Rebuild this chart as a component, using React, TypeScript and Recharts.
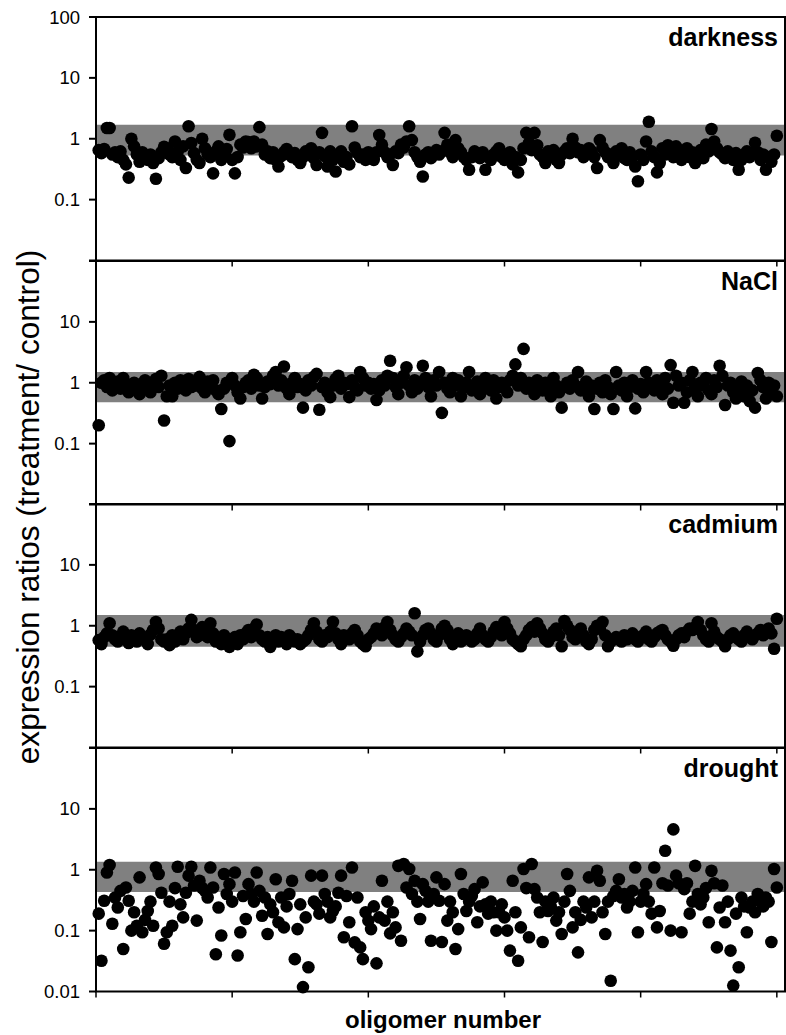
import { ScatterChart, Scatter, XAxis, YAxis, ReferenceArea } from "recharts";

const FONT = '"Liberation Sans", Arial, Helvetica, sans-serif';

// oligomer number axis (no labels, ticks only)
const oligomerTicks = [0, 50, 100, 150, 200, 250];
const ratioTicks = [0.01, 0.1, 1, 10, 100];

const treatments = ["darkness", "NaCl", "cadmium", "drought"];

// expression ratios (treatment / control), oligomer 1..250
const darkness = [
  0.65, 0.58, 0.68, 1.5, 1.5, 0.55, 0.6, 0.5, 0.62, 0.45, 0.38, 0.23, 1.0, 0.75, 0.55, 0.42, 0.6, 0.5, 0.45, 0.55, 0.4, 0.22, 0.48, 0.6, 0.74,
  0.7, 0.55, 0.5, 0.9, 0.62, 0.45, 0.75, 0.33, 1.6, 0.85, 0.58, 0.45, 0.4, 1.0, 0.7, 0.55, 0.5, 0.27, 0.62, 0.75, 0.45, 0.58, 0.68, 1.16, 0.45,
  0.27, 0.5, 0.8, 0.72, 0.9, 0.88, 0.7, 0.9, 0.75, 1.55, 0.8, 0.55, 0.62, 0.48, 0.6, 0.45, 0.35, 0.52, 0.6, 0.68, 0.55, 0.5, 0.58, 0.45, 0.4,
  0.5, 0.62, 0.55, 0.7, 0.48, 0.37, 0.6, 1.25, 0.52, 0.35, 0.62, 0.45, 0.29, 0.55, 0.62, 0.42, 0.5, 0.38, 1.6, 0.72, 0.58, 0.5, 0.55, 0.45, 0.6,
  0.5, 0.45, 0.6, 1.15, 0.8, 0.6, 0.5, 0.55, 0.37, 0.62, 0.58, 0.8, 0.72, 0.9, 1.6, 0.95, 0.6, 0.5, 0.42, 0.24, 0.55, 0.6, 0.48, 0.58, 0.65,
  0.55, 0.62, 1.25, 0.8, 0.6, 0.5, 0.95, 0.7, 0.6, 0.5, 0.45, 0.31, 0.5, 0.62, 0.55, 0.48, 0.6, 0.31, 0.5, 0.45, 0.55, 0.62, 0.7, 0.5, 0.45,
  0.55, 0.6, 0.38, 0.5, 0.28, 0.45, 0.7, 1.25, 0.85, 0.65, 1.25, 0.78, 0.55, 0.5, 0.4, 0.62, 0.55, 0.65, 0.45, 0.4, 0.55, 0.62, 0.7, 0.58, 1.0,
  0.72, 0.6, 0.65, 0.5, 0.55, 0.7, 0.62, 0.5, 0.33, 0.95, 0.72, 0.6, 0.5, 0.55, 0.4, 0.62, 0.55, 0.7, 0.48, 0.45, 0.6, 0.5, 0.35, 0.2, 0.55,
  0.45, 0.9, 1.9, 0.62, 0.5, 0.28, 0.4, 0.7, 0.55, 0.78, 0.62, 0.5, 0.75, 0.55, 0.45, 0.62, 0.7, 0.5, 0.6, 0.4, 0.55, 0.65, 0.48, 0.8, 0.62,
  1.45, 0.9, 0.7, 0.6, 0.55, 0.48, 0.62, 0.5, 0.45, 0.58, 0.31, 0.45, 0.55, 0.62, 0.5, 0.58, 0.86, 0.6, 0.45, 0.55, 0.31, 0.5, 0.42, 0.55, 1.12,
];

const nacl = [
  0.2, 1.0, 1.1, 0.85, 1.2, 0.75, 0.9, 1.05, 0.8, 1.2, 0.95, 0.7, 0.85, 1.0, 0.75, 0.65, 0.9, 1.1, 0.8, 0.7, 1.0, 1.15, 0.85, 1.3, 0.24,
  0.6, 0.9, 0.6, 1.0, 0.8, 1.1, 0.95, 0.75, 1.15, 0.85, 1.0, 0.9, 1.25, 0.8, 0.7, 1.05, 0.9, 1.1, 0.75, 0.65, 0.37, 0.8, 1.0, 0.11, 1.2,
  0.9, 0.7, 0.55, 0.85, 1.0, 1.1, 0.8, 1.35, 1.2, 0.9, 0.55, 0.85, 1.05, 0.95, 1.3, 1.5, 0.9, 1.1, 1.85, 0.8, 0.65, 1.0, 1.2, 0.85, 0.95,
  0.39, 0.75, 1.1, 0.9, 1.25, 1.4, 0.36, 0.85, 1.0, 0.7, 0.58, 0.9, 1.15, 1.3, 0.8, 1.0, 0.95, 0.58, 1.1, 0.85, 0.75, 1.5, 1.2, 0.9, 1.0,
  0.8, 0.95, 0.52, 0.75, 1.1, 0.9, 1.3, 2.3, 1.2, 0.85, 0.65, 1.0, 1.3, 1.8, 0.9, 0.7, 1.1, 0.8, 1.0, 1.9, 1.2, 0.85, 0.6, 1.1, 0.9,
  1.5, 0.32, 1.0, 0.8, 0.7, 1.2, 0.9, 1.1, 0.6, 0.85, 1.0, 1.5, 0.75, 0.9, 1.05, 0.65, 0.8, 1.2, 0.9, 0.75, 1.1, 0.55, 0.85, 1.0, 0.9,
  0.7, 1.1, 1.3, 2.0, 0.9, 1.2, 3.6, 0.8, 1.0, 0.85, 0.65, 1.1, 0.95, 0.75, 1.0, 0.85, 0.6, 1.2, 0.9, 0.7, 0.39, 0.85, 1.0, 0.8, 1.1,
  0.9, 1.5, 0.75, 0.85, 1.05, 0.6, 0.9, 0.37, 0.8, 1.0, 0.7, 1.1, 0.85, 0.65, 0.37, 1.5, 0.9, 0.75, 1.0, 0.6, 0.85, 1.1, 0.38, 0.8, 0.95,
  0.7, 1.5, 1.0, 0.85, 0.75, 1.1, 0.9, 0.65, 1.2, 0.8, 1.95, 0.47, 1.3, 0.9, 1.0, 0.47, 0.7, 1.1, 1.5, 0.85, 0.6, 1.0, 0.9, 1.2, 0.75,
  0.65, 1.1, 0.85, 1.9, 1.3, 0.43, 0.9, 1.0, 0.7, 0.55, 0.8, 1.05, 0.6, 0.9, 0.5, 0.75, 0.39, 1.45, 1.1, 0.85, 0.55, 1.0, 0.7, 0.9, 0.6,
];

const cadmium = [
  0.58, 0.5, 0.65, 0.75, 1.1, 0.7, 0.6, 0.55, 0.68, 0.8, 0.6, 0.52, 0.7, 0.62, 0.55, 0.75, 0.65, 0.6, 0.5, 0.72, 0.85, 1.15, 0.9, 0.6, 0.55,
  0.6, 0.48, 0.7, 0.55, 0.65, 0.8, 0.6, 0.75, 0.9, 1.25, 0.85, 0.65, 0.7, 0.95, 0.8, 0.65, 1.1, 0.75, 0.55, 0.6, 0.5, 0.7, 0.55, 0.45, 0.6,
  0.65, 0.5, 0.7, 0.6, 0.75, 0.85, 0.65, 0.9, 1.05, 0.7, 0.6, 0.55, 0.65, 0.45, 0.6, 0.7, 0.55, 0.65, 0.6, 0.5, 0.7, 0.62, 0.55, 0.6, 0.5,
  0.55, 0.6, 0.7, 0.85, 1.1, 0.8, 0.6, 0.55, 0.7, 0.65, 0.8, 1.15, 0.75, 0.6, 0.5, 0.7, 0.65, 0.6, 0.75, 0.85, 0.7, 0.55, 0.5, 0.46, 0.6,
  0.65, 0.75, 0.9, 0.8, 0.7, 0.95, 1.15, 0.85, 0.7, 0.6, 0.55, 0.65, 0.75, 0.9, 0.8, 0.7, 1.6, 0.38, 0.55, 0.7, 0.85, 0.9, 0.75, 0.6, 0.55,
  0.7, 0.9, 1.0, 0.85, 0.6, 0.5, 0.65, 0.75, 0.55, 0.6, 0.7, 0.65, 0.55, 0.6, 0.75, 0.9, 0.7, 0.6, 0.55, 0.65, 0.8, 0.95, 0.85, 0.7, 1.15,
  0.9, 0.75, 0.6, 0.55, 0.5, 0.46, 0.6, 0.7, 0.85, 0.95, 0.8, 1.1, 0.9, 0.75, 0.6, 0.55, 0.65, 0.8, 0.9, 0.7, 0.46, 1.2, 1.0, 0.85, 0.65,
  0.6, 0.75, 0.9, 0.7, 0.55, 0.5, 0.6, 0.85, 1.0, 0.9, 1.15, 0.7, 0.46, 0.55, 0.6, 0.65, 0.6, 0.55, 0.7, 0.6, 0.65, 0.75, 0.6, 0.55, 0.65,
  0.7, 0.8, 0.6, 0.55, 0.65, 0.75, 0.8, 0.85, 0.7, 0.6, 0.55, 0.47, 0.6, 0.7, 0.75, 0.65, 0.8, 0.9, 0.85, 0.95, 1.15, 0.85, 0.7, 0.6, 0.55,
  1.1, 0.8, 0.65, 0.6, 0.55, 0.46, 0.6, 0.7, 0.75, 0.65, 0.6, 0.55, 0.7, 0.8, 0.65, 0.6, 0.7, 0.75, 0.85, 0.7, 0.8, 0.9, 0.75, 0.42, 1.3,
];

const drought = [
  0.19, 0.032, 0.31, 0.9, 1.2, 0.13, 0.35, 0.24, 0.45, 0.05, 0.51, 0.31, 0.1, 0.2, 0.12, 0.75, 0.094, 0.15, 0.21, 0.3, 0.12, 1.09, 0.85, 0.42, 0.061,
  0.094, 0.3, 0.12, 0.5, 1.12, 0.27, 0.165, 0.42, 0.8, 1.12, 0.55, 0.146, 0.66, 0.5, 0.45, 0.35, 1.09, 0.51, 0.041, 0.24, 0.083, 0.85, 0.4, 0.58, 0.3,
  0.9, 0.039, 0.094, 0.37, 0.155, 0.58, 0.4, 0.3, 0.9, 0.45, 0.176, 0.35, 0.088, 0.27, 0.2, 0.7, 0.137, 0.35, 0.113, 0.25, 0.4, 0.66, 0.034, 0.106, 0.27,
  0.0118, 0.165, 0.025, 0.8, 0.3, 0.27, 0.19, 0.8, 0.4, 0.3, 0.165, 0.21, 0.25, 0.42, 0.8, 0.078, 0.37, 0.137, 1.09, 0.064, 0.35, 0.053, 0.034, 0.2, 0.146,
  0.106, 0.25, 0.029, 0.165, 0.66, 0.146, 0.3, 0.09, 0.2, 0.113, 1.16, 0.068, 1.24, 0.51, 1.03, 0.4, 0.66, 0.3, 0.155, 0.58, 0.45, 0.3, 0.068, 0.4, 0.75,
  0.31, 0.065, 0.58, 0.146, 0.3, 0.2, 0.05, 0.106, 0.85, 0.4, 0.21, 0.3, 0.37, 0.48, 0.137, 0.25, 0.62, 0.27, 0.19, 0.3, 0.2, 0.1, 0.2, 0.27, 0.165,
  0.1, 0.047, 0.66, 0.2, 0.032, 0.113, 1.03, 0.5, 0.078, 1.24, 0.48, 0.35, 0.2, 0.065, 0.3, 0.21, 0.25, 0.35, 0.146, 0.2, 0.088, 0.3, 0.85, 0.45, 0.113,
  0.2, 0.044, 0.15, 0.3, 0.24, 0.75, 0.165, 0.3, 0.96, 0.66, 0.2, 0.088, 0.3, 0.015, 0.37, 0.45, 0.7, 0.35, 0.4, 0.24, 0.3, 0.45, 1.09, 0.094, 0.3,
  0.4, 0.58, 0.3, 0.19, 1.09, 0.113, 0.21, 0.6, 2.05, 0.55, 0.1, 4.6, 0.8, 0.6, 0.094, 0.48, 0.6, 0.19, 0.3, 1.16, 0.4, 0.27, 0.35, 0.5, 0.137,
  0.96, 0.6, 0.053, 0.24, 0.55, 0.137, 0.3, 0.047, 0.0125, 0.19, 0.025, 0.35, 0.25, 0.094, 0.24, 0.3, 0.2, 0.4, 0.3, 0.25, 0.35, 0.3, 0.065, 1.03, 0.51,
];

// grey band limits per treatment
const bandLow = [0.53, 0.48, 0.45, 0.43];
const bandHigh = [1.7, 1.5, 1.5, 1.35];

// which y tick labels each panel prints
const shownLabels = [
  [100, 10, 1, 0.1],
  [10, 1, 0.1],
  [10, 1, 0.1],
  [10, 1, 0.1, 0.01],
];

const series = [darkness, nacl, cadmium, drought];
const panelTops = [17, 260.5, 504, 747.5];
const PLOT_H = 243.5;
const X_MAX = 253;

const Dot = (p: any) => <circle cx={p.cx} cy={p.cy} r={6.3} fill="#000" />;

function Panel({ idx }: { idx: number }) {
  const data = series[idx].map((v, i) => ({ n: i + 1, ratio: v }));
  const shown = shownLabels[idx];
  const name = treatments[idx];

  const renderName = (props: any) => {
    const vb = props.viewBox;
    return (
      <text
        x={vb.x + vb.width - 7}
        y={vb.y + 29}
        textAnchor="end"
        fontSize={25}
        fontWeight="bold"
        fontFamily={FONT}
        fill="#000"
      >
        {name}
      </text>
    );
  };

  return (
    <div style={{ position: "absolute", left: 0, top: panelTops[idx] - 10 }}>
      <ScatterChart width={786} height={10 + PLOT_H + 8 + 10} margin={{ top: 10, right: 1, bottom: 10, left: 0 }}>
        <XAxis
          type="number"
          dataKey="n"
          domain={[0, X_MAX]}
          ticks={oligomerTicks}
          interval={0}
          tickFormatter={() => ""}
          tickSize={6}
          height={8}
          axisLine={false}
          tickLine={{ stroke: "#000", strokeWidth: 1.5 }}
        />
        <YAxis
          type="number"
          dataKey="ratio"
          scale="log"
          domain={[0.01, 100]}
          ticks={ratioTicks}
          interval={0}
          tickFormatter={(v: number) => (shown.includes(v) ? String(v) : "")}
          tickSize={7}
          tickMargin={9}
          width={96}
          axisLine={false}
          tickLine={{ stroke: "#000", strokeWidth: 2 }}
          tick={{ fill: "#000", fontSize: 18.5, fontFamily: FONT }}
        />
        <ReferenceArea x1={0} x2={X_MAX} y1={bandLow[idx]} y2={bandHigh[idx]} fill="#808080" fillOpacity={1} stroke="none" />
        <Scatter data={data} isAnimationActive={false} shape={Dot} />
        <ReferenceArea
          x1={0}
          x2={X_MAX}
          y1={0.01}
          y2={100}
          fill="none"
          stroke="#000"
          strokeWidth={2}
          label={renderName}
        />
      </ScatterChart>
    </div>
  );
}

export default function App() {
  return (
    <div style={{ position: "absolute", left: 0, top: 0, width: 786, height: 1035, background: "#fff" }}>
      {treatments.map((t, i) => (
        <Panel key={t} idx={i} />
      ))}
      <svg width={786} height={1035} style={{ position: "absolute", left: 0, top: 0, pointerEvents: "none" }}>
        <text
          transform="translate(39,507) rotate(-90)"
          textAnchor="middle"
          fontSize={31.6}
          fontFamily={FONT}
          fill="#000"
        >
          expression ratios (treatment/ control)
        </text>
        <text x={443} y={1028} textAnchor="middle" fontSize={24} fontWeight="bold" fontFamily={FONT} fill="#000">
          oligomer number
        </text>
      </svg>
    </div>
  );
}
